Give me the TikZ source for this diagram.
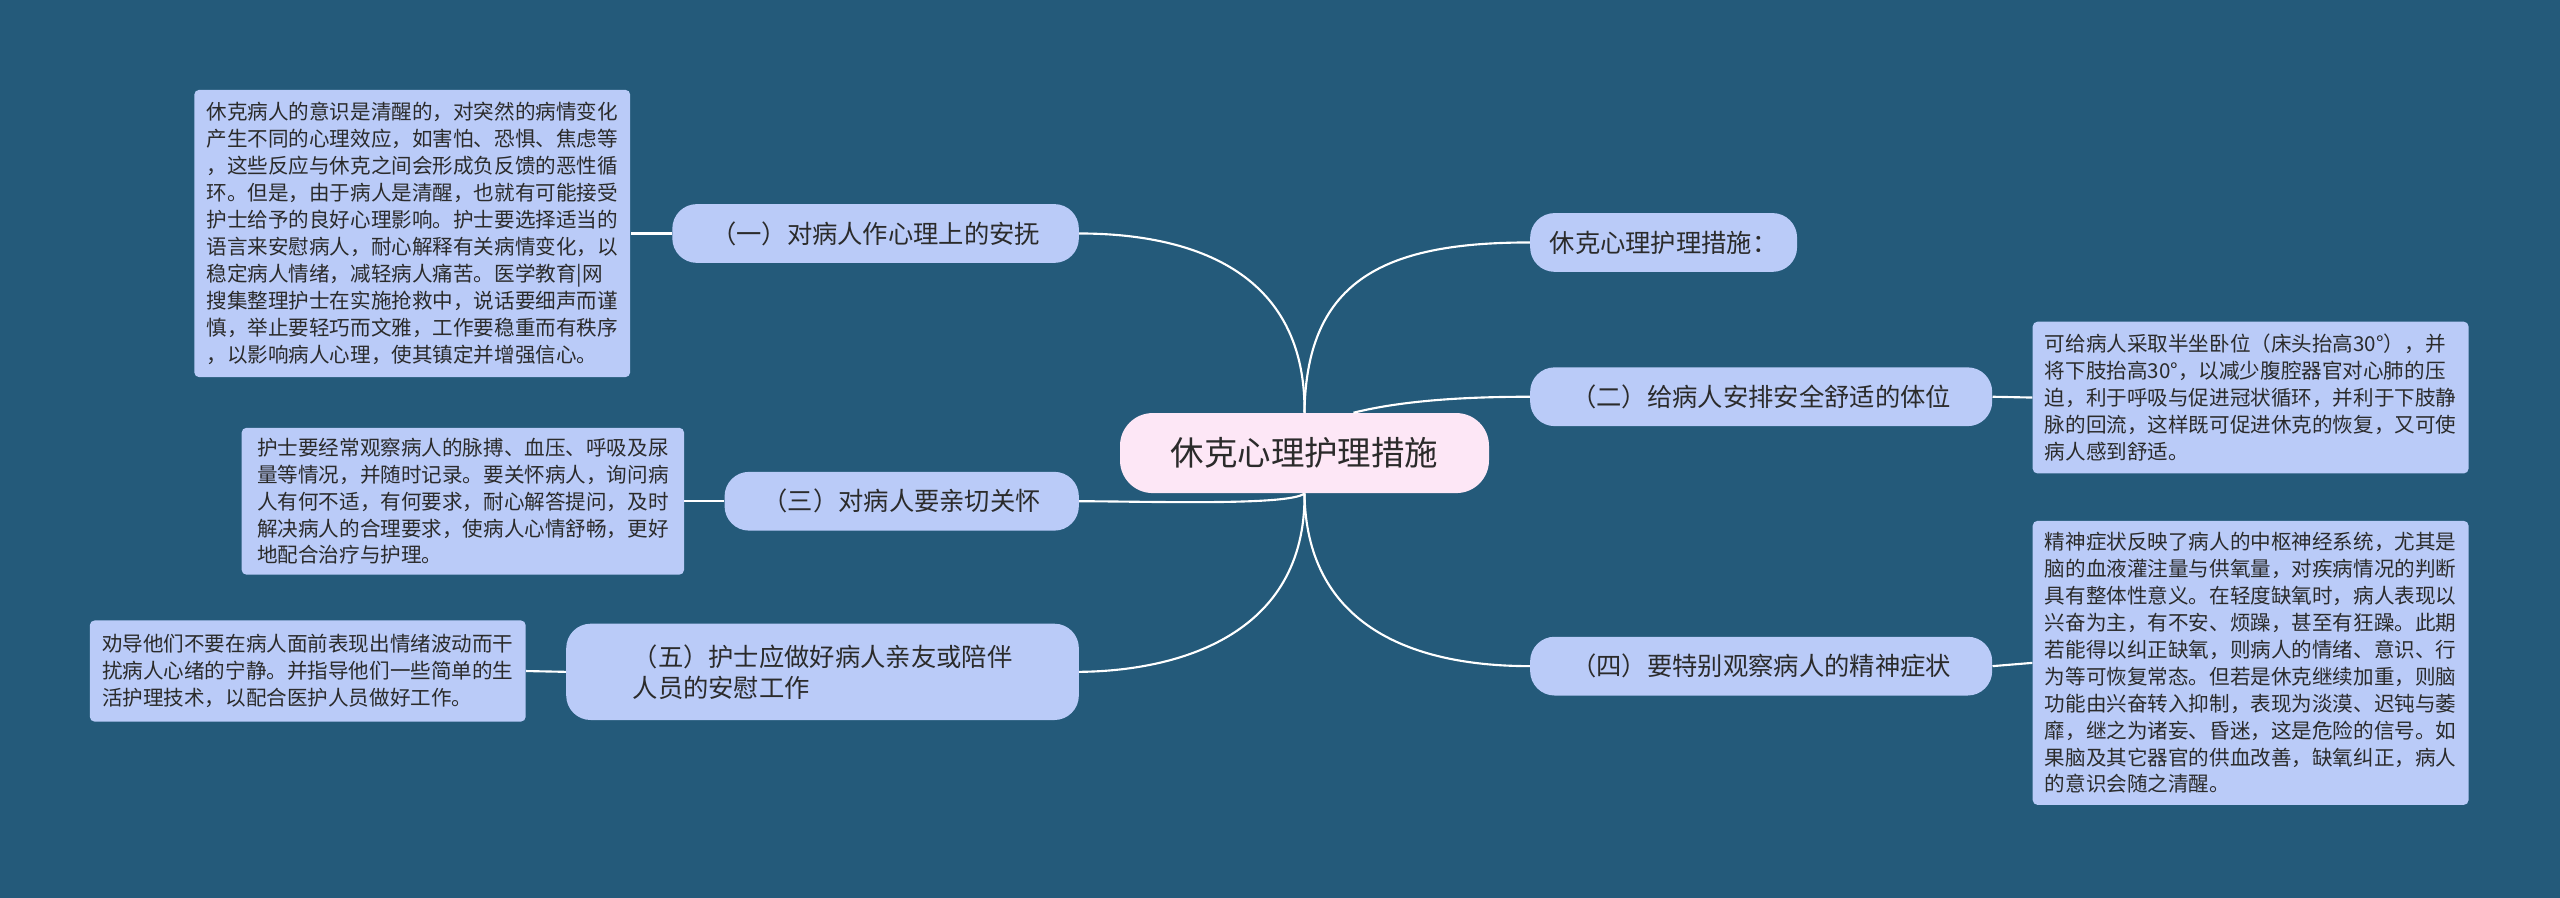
\documentclass[tikz,border=0pt]{standalone}
\usepackage{fontspec}
\setmainfont{Noto Sans CJK SC}
\definecolor{bg}{HTML}{245A7A}
\definecolor{nf}{HTML}{BACBF8}
\definecolor{cf}{HTML}{FDE7F6}
\definecolor{tx}{HTML}{2B2B2B}
\begin{document}
\begin{tikzpicture}[x=1pt,y=-1pt,
  br/.style={draw=none,fill=nf,rounded corners=15pt,text=tx,font=\fontsize{15.5}{19}\selectfont,inner xsep=12pt,align=left,anchor=west},
  det/.style={fill=nf,rounded corners=3pt,text=tx,font=\fontsize{12.6}{16.5}\selectfont,inner sep=6pt,align=left},
  ln/.style={draw=white,line width=1.3pt}]
\fill[bg] (0,0) rectangle (1568,550);
\useasboundingbox (0,0) rectangle (1568,550);
\node[fill=cf,rounded corners=20pt,minimum width=226pt,minimum height=49pt,font=\fontsize{20.5}{24}\selectfont,text=tx] (c) at (799,277.5) {休克心理护理措施};
\node[br,minimum height=36pt] (r0) at (937,148.5) {休克心理护理措施：};
\node[br,minimum height=36pt,minimum width=283pt] (r2) at (937,243) {（二）给病人安排安全舒适的体位};
\node[br,minimum height=36pt,minimum width=283pt] (r4) at (937,408) {（四）要特别观察病人的精神症状};
\node[br,minimum height=36pt,minimum width=249pt,anchor=east] (l1) at (661,143) {（一）对病人作心理上的安抚};
\node[br,minimum height=36pt,minimum width=217pt,anchor=east] (l3) at (661,307) {（三）对病人要亲切关怀};
\node[br,minimum height=59pt,minimum width=314pt,anchor=east,inner xsep=28pt] (l5) at (661,411.5) {（五）护士应做好病人亲友或陪伴\\人员的安慰工作};
\node[det,minimum width=267pt,minimum height=176pt] (d1) at (252.5,143) {休克病人的意识是清醒的，对突然的病情变化\\产生不同的心理效应，如害怕、恐惧、焦虑等\\，这些反应与休克之间会形成负反馈的恶性循\\环。但是，由于病人是清醒，也就有可能接受\\护士给予的良好心理影响。护士要选择适当的\\语言来安慰病人，耐心解释有关病情变化，以\\稳定病人情绪，减轻病人痛苦。医学教育|网\\搜集整理护士在实施抢救中，说话要细声而谨\\慎，举止要轻巧而文雅，工作要稳重而有秩序\\，以影响病人心理，使其镇定并增强信心。};
\node[det,minimum width=271pt,minimum height=90pt] (d3) at (283.5,307) {护士要经常观察病人的脉搏、血压、呼吸及尿\\量等情况，并随时记录。要关怀病人，询问病\\人有何不适，有何要求，耐心解答提问，及时\\解决病人的合理要求，使病人心情舒畅，更好\\地配合治疗与护理。};
\node[det,minimum width=267pt,minimum height=62pt] (d5) at (188.5,411) {劝导他们不要在病人面前表现出情绪波动而干\\扰病人心绪的宁静。并指导他们一些简单的生\\活护理技术，以配合医护人员做好工作。};
\node[det,minimum width=267pt,minimum height=93pt] (d2) at (1378.5,243.5) {可给病人采取半坐卧位（床头抬高30°），并\\将下肢抬高30°，以减少腹腔器官对心肺的压\\迫，利于呼吸与促进冠状循环，并利于下肢静\\脉的回流，这样既可促进休克的恢复，又可使\\病人感到舒适。};
\node[det,minimum width=267pt,minimum height=174pt] (d4) at (1378.5,406) {精神症状反映了病人的中枢神经系统，尤其是\\脑的血液灌注量与供氧量，对疾病情况的判断\\具有整体性意义。在轻度缺氧时，病人表现以\\兴奋为主，有不安、烦躁，甚至有狂躁。此期\\若能得以纠正缺氧，则病人的情绪、意识、行\\为等可恢复常态。但若是休克继续加重，则脑\\功能由兴奋转入抑制，表现为淡漠、迟钝与萎\\靡，继之为诸妄、昏迷，这是危险的信号。如\\果脑及其它器官的供血改善，缺氧纠正，病人\\的意识会随之清醒。};
\begin{scope}[on background layer/.try]
\end{scope}
\draw[ln] (c.north) ++(0,0) .. controls (800,170) and (850,148.5) .. (r0.west);
\draw[ln] (c.north) ++(30,0) .. controls (860,245) and (900,243) .. (r2.west);
\draw[ln] (c.south) .. controls (800,380) and (860,408) .. (r4.west);
\draw[ln] (c.north) .. controls (800,160) and (720,143) .. (l1.east);
\draw[ln] (c.south) .. controls (790,310) and (700,307) .. (l3.east);
\draw[ln] (c.south) .. controls (800,390) and (720,411) .. (l5.east);
\draw[ln] (l1.west) -- (d1.east);
\draw[ln] (l3.west) -- (d3.east);
\draw[ln] (l5.west) -- (d5.east);
\draw[ln] (r2.east) -- (d2.west);
\draw[ln] (r4.east) -- (d4.west);
\end{tikzpicture}
\end{document}
